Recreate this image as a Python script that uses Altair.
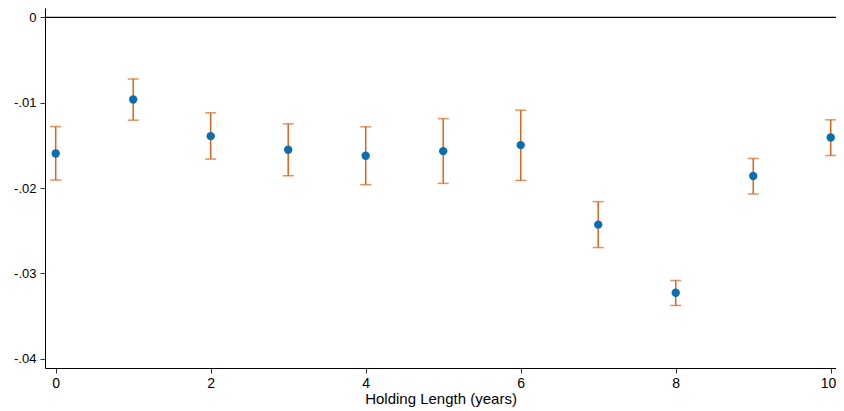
import altair as alt
import pandas as pd

years = [0, 1, 2, 3, 4, 5, 6, 7, 8, 9, 10]
coef = [-0.01595, -0.00963, -0.01392, -0.01552, -0.01622, -0.01568, -0.01497, -0.02429, -0.03228, -0.0186, -0.01408]
upper = [-0.0128, -0.00722, -0.01119, -0.01248, -0.01283, -0.01186, -0.01088, -0.0216, -0.03084, -0.01654, -0.01201]
lower = [-0.01907, -0.01205, -0.01661, -0.01856, -0.01961, -0.01946, -0.01911, -0.02698, -0.03377, -0.0207, -0.01619]

df = pd.DataFrame({"year": years, "coef": coef, "upper": upper, "lower": lower})
zero_df = pd.DataFrame({"y": [0.0]})

BLUE = "#0a6eaf"
ORANGE = "#d9651a"
FONT = "Liberation Sans"

xscale = alt.Scale(domain=[-0.138, 10.068], nice=False, zero=False)
yscale = alt.Scale(domain=[-0.0411, 0.0011], nice=False, zero=False)

xaxis = alt.Axis(values=[0, 2, 4, 6, 8, 10], format="d", title="Holding Length (years)", grid=False,
                 domainColor="#000000", tickColor="#333333", tickSize=5,
                 labelFont=FONT, labelFontSize=14, labelColor="#000000", labelPadding=3,
                 labelFlush=6, labelFlushOffset=5,
                 titleFont=FONT, titleFontSize=15, titleFontWeight="normal", titleColor="#000000",
                 titlePadding=1)
yaxis = alt.Axis(values=[-0.04, -0.03, -0.02, -0.01, 0], title=None, grid=False,
                 labelExpr="datum.value == 0 ? '0' : '-.0' + toString(round(-datum.value*100))",
                 domainColor="#000000", tickColor="#333333", tickSize=5,
                 labelFont=FONT, labelFontSize=13, labelColor="#000000", labelPadding=4)

base = alt.Chart(df)

zero_line = alt.Chart(zero_df).mark_rule(color="#000000", strokeWidth=1.2).encode(
    y=alt.Y("y:Q", scale=yscale, axis=yaxis)
)

bars = base.mark_rule(color=ORANGE, strokeWidth=1.5).encode(
    x=alt.X("year:Q", scale=xscale, axis=xaxis),
    y=alt.Y("lower:Q", scale=yscale, axis=yaxis),
    y2="upper:Q",
)

cap_lo = base.mark_tick(color=ORANGE, thickness=1.5, size=11, orient="horizontal").encode(
    x=alt.X("year:Q", scale=xscale),
    y=alt.Y("lower:Q", scale=yscale),
)
cap_hi = base.mark_tick(color=ORANGE, thickness=1.5, size=11, orient="horizontal").encode(
    x=alt.X("year:Q", scale=xscale),
    y=alt.Y("upper:Q", scale=yscale),
)

points = base.mark_circle(color=BLUE, size=70, opacity=1).encode(
    x=alt.X("year:Q", scale=xscale),
    y=alt.Y("coef:Q", scale=yscale),
)

chart = alt.layer(zero_line, bars, cap_lo, cap_hi, points).properties(
    width=791, height=360,
    autosize=alt.AutoSizeParams(type="none"),
    padding={"left": 37, "top": 0, "right": 0, "bottom": 45},
).configure(background="#ffffff").configure_view(stroke=None)

chart.save("out.html", embed_options={"renderer": "svg", "actions": False})
